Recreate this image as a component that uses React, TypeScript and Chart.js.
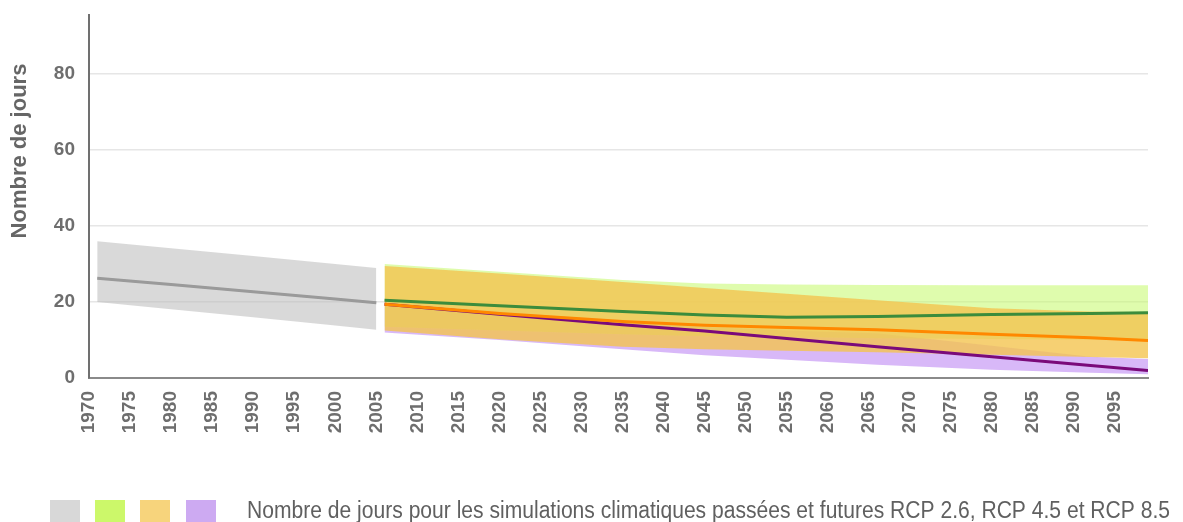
import { useEffect, useRef } from 'react';
import { Chart, registerables } from 'chart.js';

Chart.register(...registerables);

// ---- data ----
const histYears = [1971, 1980, 1990, 2000, 2005];
const histMedian = [26.3, 24.6, 22.7, 20.8, 19.8];
const histUpper = [36.0, 34.2, 32.1, 30.0, 29.0];
const histLower = [20.0, 18.1, 16.0, 13.8, 12.7];

const futYears = [2006, 2020, 2035, 2045, 2055, 2066, 2080, 2092, 2099];
const rcp26Median = [20.5, 19.0, 17.5, 16.6, 16.0, 16.2, 16.7, 17.0, 17.2];
const rcp26Upper = [30.0, 28.0, 25.8, 24.9, 24.6, 24.5, 24.4, 24.4, 24.4];
const rcp26Lower = [13.5, 12.5, 11.5, 11.0, 10.8, 10.5, 10.3, 10.1, 10.0];

const rcp45Median = [19.4, 17.0, 14.9, 13.9, 13.3, 12.7, 11.5, 10.6, 9.9];
const rcp45Upper = [29.5, 27.5, 25.3, 23.7, 22.2, 20.5, 18.4, 17.5, 17.3];
const rcp45Lower = [12.5, 10.2, 8.2, 7.6, 7.2, 6.8, 6.1, 5.5, 5.2];

const rcp85Median = [19.4, 16.8, 14.0, 12.4, 10.4, 8.2, 5.6, 3.3, 2.0];
const rcp85Upper = [20.0, 17.5, 15.0, 13.5, 12.5, 11.8, 8.5, 5.6, 5.0];
const rcp85Lower = [12.0, 10.0, 7.6, 6.0, 4.8, 3.5, 2.2, 1.4, 1.0];

const yearMin = 1970;
const yearMax = 2099;
const yTitle = 'Nombre de jours';
const legendText =
  'Nombre de jours pour les simulations climatiques passées et futures RCP 2.6, RCP 4.5 et RCP 8.5';
const legendColors = ['#d8d8d8', '#ccf86a', '#f7d47c', '#cdaaf2'];

const FONT = "'Liberation Sans', Arial, sans-serif";

function pts(xs: number[], ys: number[]) {
  return xs.map((x, i) => ({ x, y: ys[i] }));
}

function line(data: any[], color: string, order: number, width = 3) {
  return {
    data,
    borderColor: color,
    borderWidth: width,
    pointRadius: 0,
    fill: false,
    tension: 0,
    order,
  };
}

function bandUpper(data: any[], color: string, order: number) {
  return {
    data,
    borderWidth: 0,
    borderColor: 'transparent',
    backgroundColor: color,
    pointRadius: 0,
    fill: '+1',
    tension: 0,
    order,
  };
}

function bandLower(data: any[], order: number) {
  return {
    data,
    borderWidth: 0,
    borderColor: 'transparent',
    pointRadius: 0,
    fill: false,
    tension: 0,
    order,
  };
}

const decorPlugin = {
  id: 'decor',
  afterDraw(chart: any) {
    const ctx = chart.ctx as CanvasRenderingContext2D;
    // y axis title
    ctx.save();
    ctx.translate(20, 151);
    ctx.rotate(-Math.PI / 2);
    ctx.font = `bold 22px ${FONT}`;
    ctx.fillStyle = '#666666';
    ctx.textAlign = 'center';
    ctx.textBaseline = 'middle';
    ctx.fillText(yTitle, 0, 0);
    ctx.restore();

    // legend squares
    const xs = [50, 95, 140, 186];
    legendColors.forEach((c, i) => {
      ctx.fillStyle = c;
      ctx.fillRect(xs[i], 500, 30, 22);
    });

    // legend text, narrowed to the reference width
    ctx.save();
    ctx.font = `23px ${FONT}`;
    ctx.fillStyle = '#606060';
    ctx.textBaseline = 'alphabetic';
    ctx.textAlign = 'left';
    const w = ctx.measureText(legendText).width;
    const target = 923;
    ctx.translate(247, 518);
    ctx.scale(target / w, 1);
    ctx.fillText(legendText, 0, 0);
    ctx.restore();
  },
};

export default function App() {
  const ref = useRef<HTMLCanvasElement>(null);

  useEffect(() => {
    const canvas = ref.current;
    if (!canvas) return;
    const chart = new Chart(canvas, {
      type: 'line',
      data: {
        datasets: [
          // lines
          line(pts(futYears, rcp26Median), '#3c8c3c', 0),
          line(pts(futYears, rcp45Median), '#ff8800', 1),
          line(pts(futYears, rcp85Median), '#7a0a7a', 2),
          line(pts(histYears, histMedian), '#9a9a9a', 3),
          // bands (drawn bottom to top: grey, purple, green, yellow)
          bandUpper(pts(futYears, rcp45Upper), 'rgba(244,196,80,0.8)', 10),
          bandLower(pts(futYears, rcp45Lower), 20),
          bandUpper(pts(futYears, rcp26Upper), 'rgba(197,249,105,0.55)', 11),
          bandLower(pts(futYears, rcp26Lower), 21),
          bandUpper(pts(futYears, rcp85Upper), 'rgba(177,113,241,0.5)', 12),
          bandLower(pts(futYears, rcp85Lower), 22),
          bandUpper(pts(histYears, histUpper), 'rgba(185,185,185,0.55)', 13),
          bandLower(pts(histYears, histLower), 23),
        ] as any,
      },
      options: {
        responsive: false,
        animation: false,
        events: [],
        layout: { padding: { left: 0, right: 35, top: 15, bottom: 0 } },
        plugins: {
          legend: { display: false },
          tooltip: { enabled: false },
          filler: { drawTime: 'beforeDatasetsDraw' } as any,
        },
        scales: {
          x: {
            type: 'linear',
            min: yearMin,
            max: yearMax,
            afterFit: (s: any) => {
              s.height = 522 - 378;
              s.paddingLeft = 0;
              s.paddingRight = 0;
            },
            grid: { display: false, drawTicks: false },
            border: { display: true, color: '#8a8a8a', width: 2 },
            ticks: {
              stepSize: 5,
              autoSkip: false,
              includeBounds: false,
              maxRotation: 90,
              minRotation: 90,
              padding: 13,
              color: '#6e6e6e',
              font: { family: FONT, size: 19, weight: 'bold' },
              callback: (v: any) => (Number(v) % 5 === 0 ? String(v) : ''),
            },
          },
          y: {
            type: 'linear',
            min: 0,
            max: 95.6,
            afterFit: (s: any) => {
              s.width = 89;
              s.paddingTop = 0;
              s.paddingBottom = 0;
            },
            grid: {
              drawTicks: false,
              color: (c: any) =>
                c.tick && c.tick.value % 20 === 0 && c.tick.value !== 0 ? '#e6e6e6' : 'rgba(0,0,0,0)',
              lineWidth: 1.5,
            },
            border: { display: true, color: '#707070', width: 2 },
            ticks: {
              stepSize: 20,
              includeBounds: false,
              padding: 14,
              color: '#6e6e6e',
              font: { family: FONT, size: 19, weight: 'bold' },
              callback: (v: any) => (Number(v) % 20 === 0 ? String(v) : ''),
            },
          },
        },
      } as any,
      plugins: [decorPlugin],
    });
    return () => chart.destroy();
  }, []);

  return (
    <div
      style={{
        position: 'fixed',
        left: 0,
        top: 0,
        width: 1183,
        height: 522,
        background: '#ffffff',
      }}
    >
      <canvas ref={ref} width={1183} height={522} style={{ display: 'block' }} />
    </div>
  );
}
